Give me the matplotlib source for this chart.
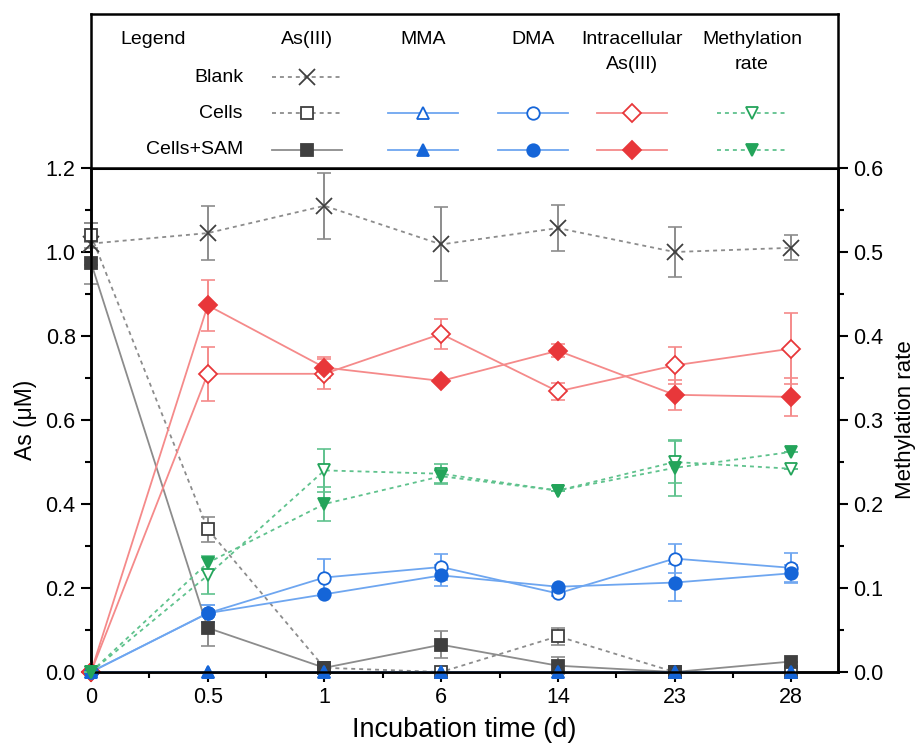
import matplotlib.pyplot as plt
import numpy as np

plt.rcParams['font.family'] = ['Liberation Sans', 'DejaVu Sans']

# categories on the x axis
days = ["0", "0.5", "1", "6", "14", "23", "28"]

# As(III) in medium (µM)
blank_as3 = [1.02, 1.045, 1.11, 1.018, 1.057, 1.0, 1.01]
blank_as3_err = [0.05, 0.065, 0.078, 0.088, 0.055, 0.06, 0.03]
cells_as3 = [1.04, 0.34, 0.01, 0.0, 0.085, 0.0, 0.0]
cells_as3_err = [0.03, 0.03, 0.0, 0.0, 0.02, 0.0, 0.0]
sam_as3 = [0.975, 0.105, 0.01, 0.065, 0.015, 0.0, 0.025]
sam_as3_err = [0.05, 0.042, 0.0, 0.032, 0.02, 0.0, 0.0]

# MMA
cells_mma = [0, 0, 0, 0, 0, 0, 0]
sam_mma = [0, 0, 0, 0, 0, 0, 0]

# DMA
cells_dma = [0.0, 0.14, 0.225, 0.25, 0.187, 0.27, 0.248]
cells_dma_err = [0.0, 0.02, 0.045, 0.03, 0.005, 0.035, 0.035]
sam_dma = [0.0, 0.14, 0.185, 0.23, 0.203, 0.213, 0.235]
sam_dma_err = [0.0, 0.02, 0.0, 0.025, 0.0, 0.045, 0.02]

# intracellular As(III)
cells_intra = [0.0, 0.71, 0.71, 0.805, 0.668, 0.73, 0.77]
cells_intra_err = [0.0, 0.065, 0.035, 0.035, 0.02, 0.045, 0.085]
sam_intra = [0.0, 0.873, 0.725, 0.693, 0.765, 0.66, 0.655]
sam_intra_err = [0.0, 0.06, 0.025, 0.0, 0.015, 0.035, 0.045]

# methylation rate (right axis)
cells_rate = [0.0, 0.115, 0.24, 0.236, 0.216, 0.25, 0.242]
cells_rate_err = [0.0, 0.022, 0.026, 0.012, 0.0, 0.025, 0.0]
sam_rate = [0.0, 0.13, 0.2, 0.233, 0.216, 0.243, 0.262]
sam_rate_err = [0.0, 0.008, 0.02, 0.008, 0.0, 0.033, 0.0]

GRAY_L, GRAY_M = "#8c8c8c", "#3f3f3f"
BLUE_L, BLUE_M = "#6ea6f0", "#1565d8"
RED_L, RED_M = "#f58a8a", "#e8373a"
GREEN_L, GREEN_M = "#5fc28d", "#23a45a"
DOT = (0, (2.2, 2.2))

fig = plt.figure(figsize=(9.19, 7.49), dpi=100)
ax = fig.add_axes([91 / 919, 1 - 672 / 749, (838 - 91) / 919, (672 - 168) / 749])
ax2 = ax.twinx()
x = np.arange(len(days))


def series(a, y, err, lc, mc, mk, filled, ls, ms=9):
    mfc = mc if filled else "white"
    if err is not None:
        a.errorbar(x, y, yerr=err, fmt="none", ecolor=lc, elinewidth=1.4,
                   capsize=5, capthick=1.2, zorder=2, clip_on=False)
    a.plot(x, y, color=lc, lw=1.3, ls=ls, zorder=3, clip_on=False)
    a.plot(x, y, ls="none", marker=mk, ms=ms, mfc=mfc, mec=mc,
           mew=1.3, zorder=4, clip_on=False)


series(ax, blank_as3, blank_as3_err, GRAY_L, GRAY_M, "x", True, DOT, ms=11)
series(ax, cells_as3, cells_as3_err, GRAY_L, GRAY_M, "s", False, DOT, ms=8.5)
series(ax, sam_as3, sam_as3_err, GRAY_L, GRAY_M, "s", True, "-", ms=8.5)
series(ax, cells_intra, cells_intra_err, RED_L, RED_M, "D", False, "-")
series(ax, sam_intra, sam_intra_err, RED_L, RED_M, "D", True, "-")
series(ax, cells_dma, cells_dma_err, BLUE_L, BLUE_M, "o", False, "-")
series(ax, sam_dma, sam_dma_err, BLUE_L, BLUE_M, "o", True, "-")
series(ax, cells_mma, None, BLUE_L, BLUE_M, "^", False, "-")
series(ax, sam_mma, None, BLUE_L, BLUE_M, "^", True, "-")
series(ax2, cells_rate, cells_rate_err, GREEN_L, GREEN_M, "v", False, DOT)
series(ax2, sam_rate, sam_rate_err, GREEN_L, GREEN_M, "v", True, DOT)

ax.set_xlim(0, 6.4)
ax.set_ylim(0, 1.2)
ax2.set_ylim(0, 0.6)
ax.set_xticks(x)
ax.set_xticklabels(days)
ax.set_xticks(x[:-1] + 0.5, minor=True)
ax.set_yticks(np.arange(0, 1.21, 0.2))
ax.set_yticks(np.arange(0.1, 1.2, 0.2), minor=True)
ax.set_yticklabels([f"{v:.1f}" for v in np.arange(0, 1.21, 0.2)])
ax2.set_yticks(np.arange(0, 0.61, 0.1))
ax2.set_yticks(np.arange(0.05, 0.6, 0.1), minor=True)
ax2.set_yticklabels([f"{v:.1f}" for v in np.arange(0, 0.61, 0.1)])

for a in (ax, ax2):
    a.tick_params(which="major", direction="out", length=7, width=1.5,
                  labelsize=15.5, pad=4)
    a.tick_params(which="minor", direction="out", length=4.5, width=1.5)
    for s in a.spines.values():
        s.set_linewidth(1.8)
ax.spines["top"].set_linewidth(2.2)

ax.set_xlabel("Incubation time (d)", fontsize=19.5, labelpad=6)
ax.set_ylabel("As (μM)", fontsize=16.5, labelpad=6)
ax2.set_ylabel("Methylation rate", fontsize=16, labelpad=8)

# legend panel above the plot
lg = fig.add_axes([91 / 919, 1 - 168 / 749, (838 - 91) / 919, (168 - 14) / 749])
lg.set_xlim(91, 838)
lg.set_ylim(168, 14)
lg.set_xticks([])
lg.set_yticks([])
for s in lg.spines.values():
    s.set_linewidth(1.8)

fs = 14
lg.text(120, 40, "Legend", fontsize=fs, va="center", ha="left")
cols = [307, 423, 533, 632, 752]
heads = ["As(III)", "MMA", "DMA", "Intracellular\nAs(III)", "Methylation\nrate"]
for cx, h in zip(cols, heads):
    lg.text(cx, 31, h, fontsize=fs, ha="center", va="top", linespacing=1.6)
rows = [77, 113, 150]
for ry, r in zip(rows, ["Blank", "Cells", "Cells+SAM"]):
    lg.text(243, ry, r, fontsize=fs, ha="right", va="center")


def sample(cx, ry, lc, mc, mk, filled, ls, ms=9):
    lg.plot([cx - 35, cx + 35], [ry, ry], color=lc, lw=1.3, ls=ls)
    lg.plot([cx], [ry], marker=mk, ms=ms, mfc=mc if filled else "white",
            mec=mc, mew=1.3)


sample(cols[0], rows[0], GRAY_L, GRAY_M, "x", True, DOT, ms=11)
sample(cols[0], rows[1], GRAY_L, GRAY_M, "s", False, DOT, ms=8.5)
sample(cols[0], rows[2], GRAY_L, GRAY_M, "s", True, "-", ms=8.5)
sample(cols[1], rows[1], BLUE_L, BLUE_M, "^", False, "-")
sample(cols[1], rows[2], BLUE_L, BLUE_M, "^", True, "-")
sample(cols[2], rows[1], BLUE_L, BLUE_M, "o", False, "-")
sample(cols[2], rows[2], BLUE_L, BLUE_M, "o", True, "-")
sample(cols[3], rows[1], RED_L, RED_M, "D", False, "-")
sample(cols[3], rows[2], RED_L, RED_M, "D", True, "-")
sample(cols[4], rows[1], GREEN_L, GREEN_M, "v", False, DOT)
sample(cols[4], rows[2], GREEN_L, GREEN_M, "v", True, DOT)

fig.savefig("out.png", dpi=100)
